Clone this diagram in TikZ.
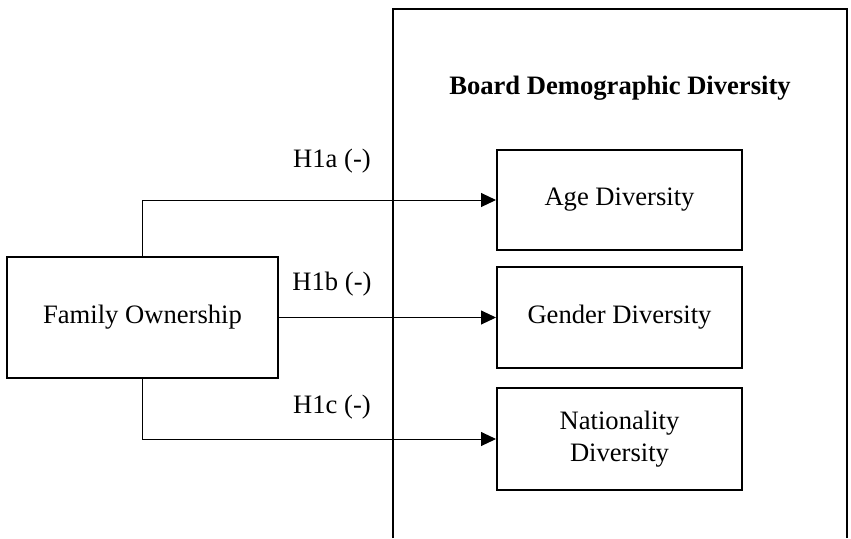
\documentclass[tikz,border=0pt]{standalone}
\usepackage{fontspec}
\setmainfont{Liberation Serif}
\usetikzlibrary{arrows.meta}

\begin{document}
\begin{tikzpicture}[x=0.5pt,y=-0.5pt,
    box/.style={draw,line width=1pt,inner sep=0pt,align=center},
    link/.style={line width=0.5pt,-{Triangle[length=7.5pt,width=7pt]}},
    font=\fontsize{13.3}{16}\selectfont]
    \useasboundingbox (0,0) rectangle (851,538);
    \draw[line width=1pt] (393,538) -- (393,9) -- (847,9) -- (847,538);
    \node (title) at (620,88) {\textbf{Board Demographic Diversity}};
    \node[box,minimum width=135.5pt,minimum height=60.5pt] (fo) at (142.5,317.5) {Family Ownership};
    \node[box,minimum width=122.5pt,minimum height=50pt] (age) at (619.5,200) {Age Diversity};
    \node[box,minimum width=122.5pt,minimum height=50.5pt] (gen) at (619.5,317.5) {Gender Diversity};
    \node[box,minimum width=122.5pt,minimum height=51pt] (nat) at (619.5,439) {Nationality\\Diversity};
    \draw[link] (fo.north) |- (age.west);
    \draw[link] (fo.east) -- (gen.west);
    \draw[link] (fo.south) |- (nat.west);
    \node (h1a) at (332,161) {H1a (-)};
    \node (h1b) at (332,284) {H1b (-)};
    \node (h1c) at (332,407) {H1c (-)};
\end{tikzpicture}
\end{document}
